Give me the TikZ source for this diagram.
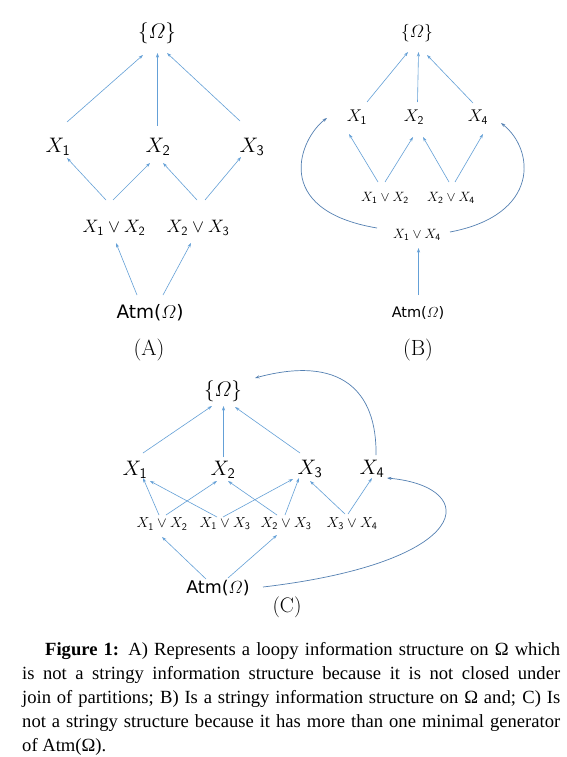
\RequirePackage{fix-cm}
\documentclass[tikz,border=0pt]{standalone}
\usepackage{amsmath}
\usepackage{fontspec}
\newfontfamily\capfont{Liberation Serif}
\newfontfamily\atmfont{DejaVu Sans}
\usetikzlibrary{arrows.meta,calc}
\definecolor{arrblue}{RGB}{100,160,215}
\definecolor{curveblue}{RGB}{84,128,178}
\newcommand{\jn}{\mathbin{\vee}}
\newcommand{\fs}[1]{\fontsize{#1}{#1}\selectfont}
\newcommand{\atmtext}{{\atmfont Atm(}$\varOmega${\atmfont )}}
\begin{document}
\begin{tikzpicture}[x=1pt,y=-1pt,
  lbl/.style={inner sep=0pt, anchor=center},
  arr/.style={draw=arrblue, line width=0.6pt, -{Stealth[length=4.5pt,width=3pt]}},
  carr/.style={draw=curveblue, line width=0.7pt, -{Stealth[length=4.5pt,width=3pt]}},
]
\useasboundingbox (0,0) rectangle (567,757);
\fill[white] (0,0) rectangle (567,757);

% ---------------- Panel A ----------------
\node[lbl,font=\fs{21}] (OA) at (157,33) {$\{\varOmega\}$};
\node[lbl,font=\fs{21}] (A1) at (58,147) {$X_{\mathsf{1}}$};
\node[lbl,font=\fs{21}] (A2) at (158,147) {$X_{\mathsf{2}}$};
\node[lbl,font=\fs{21}] (A3) at (252,147) {$X_{\mathsf{3}}$};
\node[lbl,font=\fs{18}] (A12) at (114,228) {$X_{\mathsf{1}}\jn X_{\mathsf{2}}$};
\node[lbl,font=\fs{18}] (A23) at (198,228) {$X_{\mathsf{2}}\jn X_{\mathsf{3}}$};
\node[lbl,font=\fs{18.5}] (AAtm) at (150,313) {\atmtext};
\node[lbl,font=\fs{22}] (labA) at (149,350) {(A)};

\draw[arr] ($(A1)+(9,-25)$) -- ($(OA)+(-14,22)$);
\draw[arr] ($(A2)+(-0.5,-21)$) -- ($(OA)+(0.5,20)$);
\draw[arr] ($(A3)+(-12,-26)$) -- ($(OA)+(10,20)$);
\draw[arr] ($(A12)+(-8,-28)$) -- ($(A1)+(9,11)$);
\draw[arr] ($(A12)+(-1,-28)$) -- ($(A2)+(-8,16)$);
\draw[arr] ($(A23)+(-1,-28)$) -- ($(A2)+(5,16)$);
\draw[arr] ($(A23)+(7,-28)$) -- ($(A3)+(-11,10)$);
\draw[arr] ($(AAtm)+(-13,-18)$) -- ($(A12)+(2,15)$);
\draw[arr] ($(AAtm)+(13,-18)$) -- ($(A23)+(-7,15)$);

% ---------------- Panel B ----------------
\node[lbl,font=\fs{17.5}] (OB) at (417,33) {$\{\varOmega\}$};
\node[lbl,font=\fs{17}] (B1) at (357,117) {$X_{\mathsf{1}}$};
\node[lbl,font=\fs{17}] (B2) at (414,117) {$X_{\mathsf{2}}$};
\node[lbl,font=\fs{17}] (B4) at (478,117) {$X_{\mathsf{4}}$};
\node[lbl,font=\fs{13.5}] (B12) at (385,198) {$X_{\mathsf{1}}\jn X_{\mathsf{2}}$};
\node[lbl,font=\fs{13.5}] (B24) at (451,198) {$X_{\mathsf{2}}\jn X_{\mathsf{4}}$};
\node[lbl,font=\fs{13.5}] (B14) at (417,235) {$X_{\mathsf{1}}\jn X_{\mathsf{4}}$};
\node[lbl,font=\fs{14.5}] (BAtm) at (418,313) {\atmtext};
\node[lbl,font=\fs{22}] (labB) at (418,350) {(B)};

\draw[arr] ($(B1)+(10,-15)$) -- ($(OB)+(-9,19)$);
\draw[arr] ($(B2)+(3.5,-15)$) -- ($(OB)+(1.5,19)$);
\draw[arr] ($(B4)+(-5,-14)$) -- ($(OB)+(10,22)$);
\draw[arr] ($(B12)+(-7,-16)$) -- ($(B1)+(-8,17)$);
\draw[arr] ($(B12)+(0,-16)$) -- ($(B2)+(-1,20)$);
\draw[arr] ($(B24)+(-2,-16)$) -- ($(B2)+(9,20)$);
\draw[arr] ($(B24)+(4,-16)$) -- ($(B4)+(5,17)$);
\draw[arr] ($(BAtm)+(0.5,-18)$) -- ($(B14)+(1.5,13)$);
\draw[carr] ($(B14)+(-40,-7)$) .. controls (270,210) and (300,138) .. ($(B1)+(-30,1)$);
\draw[carr] ($(B14)+(33,-3)$) .. controls (540,215) and (535,150) .. ($(B4)+(23,6)$);

% ---------------- Panel C ----------------
\node[lbl,font=\fs{21}] (OC) at (223,391) {$\{\varOmega\}$};
\node[lbl,font=\fs{21}] (C1) at (135,470) {$X_{\mathsf{1}}$};
\node[lbl,font=\fs{21}] (C2) at (223,470) {$X_{\mathsf{2}}$};
\node[lbl,font=\fs{21}] (C3) at (310,469) {$X_{\mathsf{3}}$};
\node[lbl,font=\fs{21}] (C4) at (372,469) {$X_{\mathsf{4}}$};
\node[lbl,font=\fs{14.5}] (C12) at (162,524) {$X_{\mathsf{1}}\jn X_{\mathsf{2}}$};
\node[lbl,font=\fs{14.5}] (C13) at (225,524) {$X_{\mathsf{1}}\jn X_{\mathsf{3}}$};
\node[lbl,font=\fs{14.5}] (C23) at (286,524) {$X_{\mathsf{2}}\jn X_{\mathsf{3}}$};
\node[lbl,font=\fs{14.5}] (C34) at (352,524) {$X_{\mathsf{3}}\jn X_{\mathsf{4}}$};
\node[lbl,font=\fs{17.5}] (CAtm) at (218,588) {\atmtext};
\node[lbl,font=\fs{21}] (labC) at (287,607) {(C)};

\draw[arr] ($(C1)+(8,-17)$) -- ($(OC)+(-11,15)$);
\draw[arr] ($(C2)+(0.5,-13)$) -- ($(OC)+(0.5,15)$);
\draw[arr] ($(C3)+(-10,-16)$) -- ($(OC)+(12,16)$);
\draw[arr] ($(C12)+(-3,-9)$) -- ($(C1)+(8,8)$);
\draw[arr] ($(C12)+(4,-9)$) -- ($(C2)+(-6,11)$);
\draw[arr] ($(C13)+(-8,-7)$) -- ($(C1)+(15,11)$);
\draw[arr] ($(C13)+(-2,-7)$) -- ($(C3)+(-17,10)$);
\draw[arr] ($(C23)+(-9,-9)$) -- ($(C2)+(5,11)$);
\draw[arr] ($(C23)+(-1,-9)$) -- ($(C3)+(-11,9)$);
\draw[arr] ($(C34)+(-7,-10)$) -- ($(C3)+(0,12)$);
\draw[arr] ($(C34)+(-4,-10)$) -- ($(C4)+(0,9)$);
\draw[arr] ($(CAtm)+(-12,-9)$) -- ($(C12)+(0,13)$);
\draw[arr] ($(CAtm)+(10,-10)$) -- ($(C23)+(-9,11)$);
\draw[carr] ($(C4)+(4,-14)$) .. controls (377,390) and (340,355) .. ($(OC)+(32,-13)$);
\draw[carr] ($(CAtm)+(45,-1)$) .. controls (475,562) and (482,487) .. ($(C4)+(15,9)$);

% ---------------- Caption ----------------
\node[anchor=base west, inner sep=0pt, text width=538pt, align=justify,
      font=\capfont\fontsize{18.6}{24}\selectfont] (cap) at (22,655)
{\hspace*{23pt}\textbf{Figure 1:} A) Represents a loopy information structure on Ω which\linebreak
is not a stringy information structure because it is not closed under\linebreak
join of partitions; B) Is a stringy information structure on Ω and; C) Is\linebreak
not a stringy structure because it has more than one minimal generator\linebreak
of Atm(Ω).};
\end{tikzpicture}
\end{document}
